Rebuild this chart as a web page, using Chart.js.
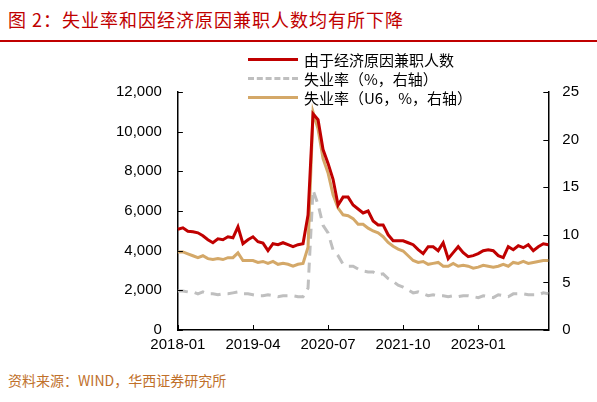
<!DOCTYPE html>
<html>
<head>
<meta charset="utf-8">
<script src="https://cdn.jsdelivr.net/npm/chart.js@4"></script>
<style>
  body { margin: 0; width: 597px; height: 402px; background: #fff; font-family: "Noto Sans CJK SC", sans-serif; position: relative; overflow: hidden; }
  #title { position: absolute; left: 8px; top: 6px; font-size: 18px; color: #c00000; letter-spacing: 1px; }
  #rule { position: absolute; left: 0; top: 40px; width: 597px; height: 2px; background: #c00000; }
  #wrap { position: absolute; left: 0; top: 44px; width: 597px; height: 320px; }
  #legend { position: absolute; left: 248px; top: 50px; font-size: 15px; line-height: 19px; color: #000; }
  #legend div { display: flex; align-items: center; }
  #legend span.k { display: inline-block; width: 50px; margin-right: 6px; }
  #source { position: absolute; left: 8px; top: 370px; font-size: 14px; color: #c0702a; }
</style>
</head>
<body>
<div id="title">图 2：失业率和因经济原因兼职人数均有所下降</div>
<div id="rule"></div>
<div id="wrap"><canvas id="chart"></canvas></div>
<div id="legend">
  <div><span class="k" style="border-top:3px solid #c00000"></span>由于经济原因兼职人数</div>
  <div><span class="k" style="border-top:3px dashed #bfbfbf"></span>失业率（%，右轴）</div>
  <div><span class="k" style="border-top:3px solid #d4a868"></span>失业率（U6，%，右轴）</div>
</div>
<div id="source">资料来源：WIND，华西证券研究所</div>
<script>
// Months 2018-01 .. 2024-03
const months = [];
for (let y = 2018; y <= 2024; y++) {
  for (let m = 1; m <= 12; m++) {
    if (y === 2024 && m > 3) break;
    months.push(y + '-' + String(m).padStart(2, '0'));
  }
}
const shownLabels = ['2018-01', '2019-04', '2020-07', '2021-10', '2023-01'];

// Part-time for economic reasons (thousands)
const partTime = [
  5080, 5150, 4980, 4950, 4900, 4750, 4550, 4400, 4600, 4550, 4700, 4650,
  5200, 4350, 4550, 4700, 4450, 4380, 4000, 4350, 4300, 4400, 4300, 4200,
  4300, 4350, 5800, 10900, 10600, 9100, 8400, 7600, 6300, 6700, 6700, 6300,
  6100, 5900, 6000, 5500, 5300, 5300, 4800, 4500, 4500, 4500, 4400, 4300,
  4050, 3850, 4200, 4200, 4000, 4400, 3600, 3900, 4200, 3900, 3700, 3750,
  3850, 4000, 4050, 4000, 3750, 3650, 4200, 4050, 4250, 4150, 4300, 4000,
  4200, 4350, 4300
];
// Unemployment rate U3 (%)
const u3 = [
  4.1, 4.1, 4.0, 4.0, 3.8, 4.0, 3.8, 3.8, 3.7, 3.8, 3.8, 3.9,
  4.0, 3.8, 3.8, 3.7, 3.6, 3.6, 3.7, 3.6, 3.5, 3.6, 3.6, 3.6,
  3.5, 3.5, 4.4, 14.7, 13.2, 11.0, 10.2, 8.4, 7.8, 6.9, 6.7, 6.7,
  6.4, 6.2, 6.1, 6.1, 5.8, 5.9, 5.4, 5.1, 4.7, 4.5, 4.2, 3.9,
  4.0, 3.8, 3.6, 3.7, 3.6, 3.6, 3.5, 3.6, 3.5, 3.6, 3.6, 3.5,
  3.4, 3.6, 3.5, 3.4, 3.7, 3.6, 3.5, 3.8, 3.8, 3.8, 3.7, 3.7,
  3.7, 3.9, 3.8
];
// Unemployment rate U6 (%)
const u6 = [
  8.2, 8.2, 8.0, 7.8, 7.6, 7.8, 7.5, 7.4, 7.5, 7.4, 7.6, 7.6,
  8.1, 7.3, 7.3, 7.3, 7.1, 7.2, 7.0, 7.2, 6.9, 7.0, 6.9, 6.7,
  6.9, 7.0, 8.7, 22.9, 21.1, 18.0, 16.5, 14.2, 12.8, 12.1, 12.0, 11.7,
  11.1, 11.1, 10.7, 10.4, 10.2, 9.8, 9.2, 8.8, 8.5, 8.3, 7.8, 7.3,
  7.1, 7.2, 6.9, 7.0, 7.1, 6.7, 6.7, 7.0, 6.7, 6.8, 6.7, 6.5,
  6.6, 6.8, 6.7, 6.6, 6.7, 6.9, 6.7, 7.1, 7.0, 7.2, 7.0, 7.1,
  7.2, 7.3, 7.3
];

// Inward tick marks on all three axes
const inwardTicks = {
  id: 'inwardTicks',
  afterDraw(chart) {
    const ctx = chart.ctx;
    const { x, y, y1 } = chart.scales;
    ctx.save();
    ctx.strokeStyle = '#000';
    ctx.lineWidth = 1;
    ctx.beginPath();
    y.ticks.forEach(t => {
      const py = Math.round(y.getPixelForValue(t.value)) + 0.5;
      ctx.moveTo(x.left, py); ctx.lineTo(x.left + 5, py);
    });
    y1.ticks.forEach(t => {
      const py = Math.round(y1.getPixelForValue(t.value)) + 0.5;
      ctx.moveTo(x.right, py); ctx.lineTo(x.right - 5, py);
    });
    shownLabels.forEach(l => {
      const px = Math.round(x.getPixelForValue(months.indexOf(l))) + 0.5;
      ctx.moveTo(px, y.bottom); ctx.lineTo(px, y.bottom - 5);
    });
    ctx.stroke();
    ctx.restore();
  }
};

const tickFont = { family: 'Liberation Sans, Arial, sans-serif', size: 15 };

new Chart(document.getElementById('chart'), {
  type: 'line',
  data: {
    labels: months,
    datasets: [{
      label: '由于经济原因兼职人数',
      data: partTime,
      yAxisID: 'y',
      borderColor: '#c00000',
      borderWidth: 3,
      pointRadius: 0,
      tension: 0,
      order: 0
    }, {
      label: '失业率（%，右轴）',
      data: u3,
      yAxisID: 'y1',
      borderColor: '#bfbfbf',
      borderWidth: 3,
      borderDash: [10, 7],
      pointRadius: 0,
      tension: 0,
      order: 2
    }, {
      label: '失业率（U6，%，右轴）',
      data: u6,
      yAxisID: 'y1',
      borderColor: '#d4a868',
      borderWidth: 3,
      pointRadius: 0,
      tension: 0,
      order: 1
    }]
  },
  options: {
    responsive: true,
    maintainAspectRatio: false,
    animation: false,
    layout: { padding: { left: 100, right: 4, top: 48, bottom: 4 } },
    plugins: { legend: { display: false }, tooltip: { enabled: false } },
    scales: {
      x: {
        offset: false,
        grid: { display: false, drawTicks: false },
        border: { display: true, color: '#000', width: 1.5 },
        ticks: {
          autoSkip: false,
          maxRotation: 0,
          padding: 6,
          color: '#000',
          font: tickFont,
          callback: (v, i) => shownLabels.includes(months[i]) ? months[i] : ''
        }
      },
      y: {
        position: 'left',
        min: 0, max: 12000,
        grid: { display: false, drawTicks: false },
        border: { display: true, color: '#000', width: 1.5 },
        ticks: {
          stepSize: 2000,
          padding: 16,
          color: '#000',
          font: tickFont,
          callback: v => v.toLocaleString('en-US')
        }
      },
      y1: {
        position: 'right',
        min: 0, max: 25,
        grid: { display: false, drawTicks: false },
        border: { display: true, color: '#000', width: 1.5 },
        ticks: { stepSize: 5, padding: 14, color: '#000', font: tickFont }
      }
    }
  },
  plugins: [inwardTicks]
});
</script>
</body>
</html>
